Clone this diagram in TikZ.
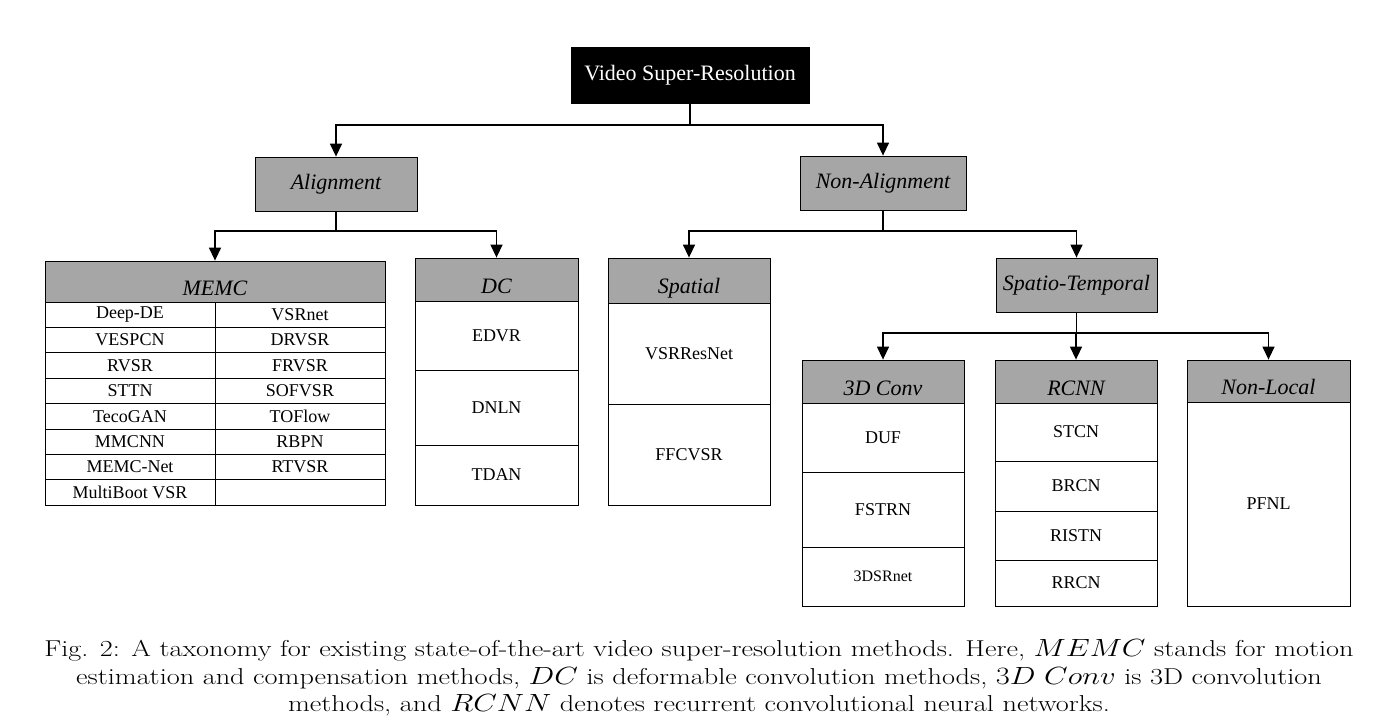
\documentclass[tikz,border=0pt]{standalone}
\usepackage{fontspec}
\usetikzlibrary{arrows.meta}
\newfontfamily\tnr{Liberation Serif}
\definecolor{hdrgray}{RGB}{166,166,166}
\tikzset{
  cell/.style={draw, line width=0.8pt, inner sep=0pt, font=\tnr\fontsize{18}{20}\selectfont},
  head/.style={cell, fill=hdrgray, font=\tnr\itshape\fontsize{22}{24}\selectfont},
  tabhead/.style={head, text height=27pt, text depth=0pt},
  link/.style={line width=1.4pt},
  arr/.style={link, -{Triangle[length=13pt,width=12pt]}}
}
\begin{document}
\begin{tikzpicture}[x=1pt, y=-1pt]
\useasboundingbox (0,0) rectangle (1398,722);

% Root and first level
\node[draw, fill=black, text=white, minimum width=238, minimum height=56, inner sep=0pt, font=\tnr\fontsize{22}{24}\selectfont] (root) at (690,75) {Video Super-Resolution};
\node[head, minimum width=162, minimum height=54] (align) at (336,184) {Alignment};
\node[head, minimum width=166, minimum height=54] (nonalign) at (883,183) {Non-Alignment};

% MEMC table
\node[tabhead, minimum width=340, minimum height=41] (memc) at (215,281.5) {MEMC};
\node[cell, minimum width=170, minimum height=25.4] (memc-1-1) at (130,314.7) {Deep-DE};
\node[cell, minimum width=170, minimum height=25.4] (memc-1-2) at (300,314.7) {VSRnet};
\node[cell, minimum width=170, minimum height=25.4] (memc-2-1) at (130,340.1) {VESPCN};
\node[cell, minimum width=170, minimum height=25.4] (memc-2-2) at (300,340.1) {DRVSR};
\node[cell, minimum width=170, minimum height=25.4] (memc-3-1) at (130,365.4) {RVSR};
\node[cell, minimum width=170, minimum height=25.4] (memc-3-2) at (300,365.4) {FRVSR};
\node[cell, minimum width=170, minimum height=25.4] (memc-4-1) at (130,390.8) {STTN};
\node[cell, minimum width=170, minimum height=25.4] (memc-4-2) at (300,390.8) {SOFVSR};
\node[cell, minimum width=170, minimum height=25.4] (memc-5-1) at (130,416.2) {TecoGAN};
\node[cell, minimum width=170, minimum height=25.4] (memc-5-2) at (300,416.2) {TOFlow};
\node[cell, minimum width=170, minimum height=25.4] (memc-6-1) at (130,441.6) {MMCNN};
\node[cell, minimum width=170, minimum height=25.4] (memc-6-2) at (300,441.6) {RBPN};
\node[cell, minimum width=170, minimum height=25.4] (memc-7-1) at (130,467.0) {MEMC-Net};
\node[cell, minimum width=170, minimum height=25.4] (memc-7-2) at (300,467.0) {RTVSR};
\node[cell, minimum width=170, minimum height=25.4] (memc-8-1) at (130,492.3) {MultiBoot VSR};
\node[cell, minimum width=170, minimum height=25.4] (memc-8-2) at (300,492.3) {};

% DC table
\node[tabhead, minimum width=163, minimum height=43] (dc) at (496.5,279.5) {DC};
\node[cell, minimum width=163, minimum height=69] (dc-1) at (496.5,335.5) {EDVR};
\node[cell, minimum width=163, minimum height=75] (dc-2) at (496.5,407.5) {DNLN};
\node[cell, minimum width=163, minimum height=60] (dc-3) at (496.5,475) {TDAN};

% Spatial table
\node[tabhead, minimum width=162, minimum height=45] (spatial) at (689,280.5) {Spatial};
\node[cell, minimum width=162, minimum height=101] (spatial-1) at (689,353.5) {VSRResNet};
\node[cell, minimum width=162, minimum height=101] (spatial-2) at (689,454.5) {FFCVSR};

% Spatio-temporal branch
\node[head, minimum width=161, minimum height=54] (spatemp) at (1076.5,285) {Spatio-Temporal};

\node[tabhead, minimum width=162, minimum height=43] (conv) at (883,381.5) {3D Conv};
\node[cell, minimum width=162, minimum height=69] (conv-1) at (883,437.5) {DUF};
\node[cell, minimum width=162, minimum height=75] (conv-2) at (883,509.5) {FSTRN};
\node[cell, minimum width=162, minimum height=59, font=\tnr\fontsize{16}{18}\selectfont] (conv-3) at (883,576.5) {3DSRnet};

\node[tabhead, minimum width=162, minimum height=43] (rcnn) at (1076,381.5) {RCNN};
\node[cell, minimum width=162, minimum height=58] (rcnn-1) at (1076,432) {STCN};
\node[cell, minimum width=162, minimum height=50] (rcnn-2) at (1076,486) {BRCN};
\node[cell, minimum width=162, minimum height=49] (rcnn-3) at (1076,535.5) {RISTN};
\node[cell, minimum width=162, minimum height=46] (rcnn-4) at (1076,583) {RRCN};

\node[tabhead, minimum width=163, minimum height=42] (nonlocal) at (1268.5,381) {Non-Local};
\node[cell, minimum width=163, minimum height=204] (nonlocal-1) at (1268.5,504) {PFNL};

% Connectors
\coordinate (rootjoin) at (690,125);
\coordinate (alignjoin) at (336,231);
\coordinate (nonalignjoin) at (883,231);
\coordinate (stjoin) at (1076.5,333);
\draw[link] (root.south) -- (rootjoin);
\draw[arr] (rootjoin) -| (align.north);
\draw[arr] (rootjoin) -| (nonalign.north);
\draw[link] (align.south) -- (alignjoin);
\draw[arr] (alignjoin) -| (memc.north);
\draw[arr] (alignjoin) -| (dc.north);
\draw[link] (nonalign.south) -- (nonalignjoin);
\draw[arr] (nonalignjoin) -| (spatial.north);
\draw[arr] (nonalignjoin) -| (spatemp.north);
\draw[link] (spatemp.south) -- (stjoin);
\draw[arr] (stjoin) -| (conv.north);
\draw[arr] (stjoin) -| (rcnn.north);
\draw[arr] (stjoin) -| (nonlocal.north);

% Caption
\begin{scope}[shift={(699,678)}, xscale=1.23]
\node[transform shape, align=center, font=\fontsize{23}{27.5}\selectfont] (caption) at (0,0) {Fig. 2: A taxonomy for existing state-of-the-art video super-resolution methods. Here, $MEMC$ stands for motion\\
estimation and compensation methods, $DC$ is deformable convolution methods, $3D\ Conv$ is 3D convolution\\
methods, and $RCNN$ denotes recurrent convolutional neural networks.};
\end{scope}
\end{tikzpicture}
\end{document}
